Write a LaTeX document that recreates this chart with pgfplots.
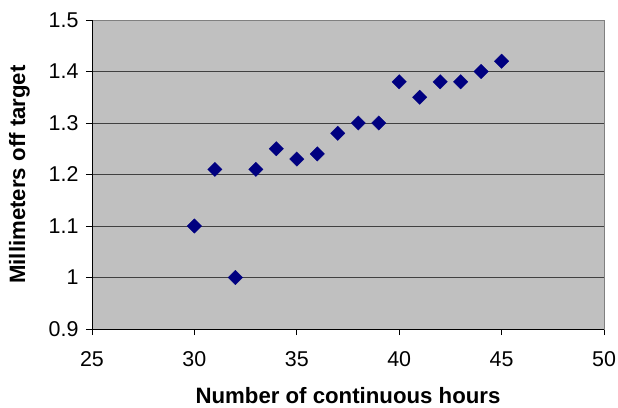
\documentclass[border=0pt]{standalone}
\usepackage{pgfplots}
\pgfplotsset{compat=1.18}
\usepackage{fontspec}
\setmainfont{Liberation Sans}
\definecolor{plotbg}{HTML}{C0C0C0}
\definecolor{navy}{HTML}{000080}
\begin{document}
\begin{tikzpicture}
\useasboundingbox (0,0) rectangle (618bp,408bp);
\begin{axis}[
  at={(92bp,79bp)}, anchor=south west,
  scale only axis, width=512bp, height=309bp,
  xmin=25, xmax=50, ymin=0.9, ymax=1.5,
  xtick={25,30,...,50}, ytick={0.9,1,1.1,1.2,1.3,1.4,1.5},
  yticklabels={0.9,1,1.1,1.2,1.3,1.4,1.5},
  xticklabels={25,30,35,40,45,50},
  axis background/.style={fill=plotbg},
  axis line style={draw=black!50, line width=0.8bp},
  tick align=outside, tick pos=left,
  major tick length=6bp,
  tick style={black, line width=0.8bp},
  ymajorgrids, grid style={black!75, line width=0.8bp},
  ticklabel style={font=\fontsize{21.5}{24}\selectfont},
  /pgf/number format/assume math mode=true,
  xticklabel style={yshift=-13bp},
  yticklabel style={xshift=-4bp},
  xlabel={\textbf{Number of continuous hours}},
  ylabel={\textbf{Millimeters off target}},
  label style={font=\fontsize{22.3}{25}\selectfont},
  xlabel style={yshift=-14bp},
  ylabel style={yshift=12bp},
  clip=false,
]
\draw[black, line width=0.8bp] (rel axis cs:0,1) -- (rel axis cs:0,0) -- (rel axis cs:1,0);
\addplot[only marks, mark=square*, mark size=5.1bp,
  mark options={rotate=45, fill=navy, draw=navy, line width=0.3bp}]
  coordinates {
  (30,1.10) (31,1.21) (32,1.00) (33,1.21) (34,1.25) (35,1.23)
  (36,1.24) (37,1.28) (38,1.30) (39,1.30) (40,1.38) (41,1.35)
  (42,1.38) (43,1.38) (44,1.40) (45,1.42)
  };
\end{axis}
\end{tikzpicture}
\end{document}
